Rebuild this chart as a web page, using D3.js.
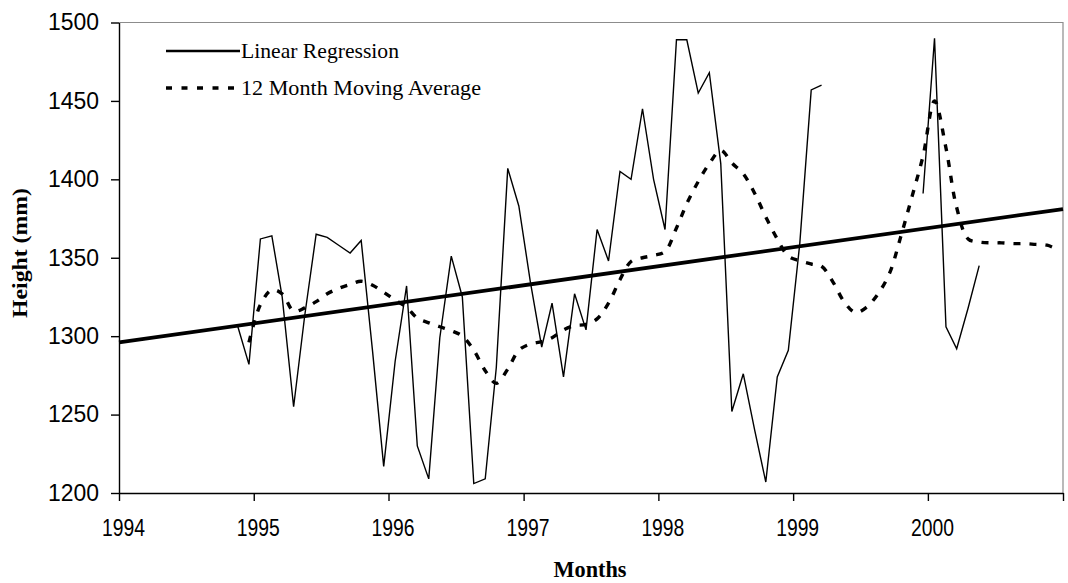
<!DOCTYPE html>
<html>
<head>
<meta charset="utf-8">
<script src="https://cdn.jsdelivr.net/npm/d3@7"></script>
<style>
  body { margin: 0; background: #fff; }
  svg { display: block; background: #fff; }
</style>
</head>
<body>
<svg id="svg" width="1068" height="583"></svg>
<script>
const svgRoot = document.getElementById('svg')
const svg = d3.select(svgRoot)

//------ data ------
// monthly heights (mm), first value is Nov 1994, null = no reading
const rawStart = new Date(1994, 10, 1)
const rawHeights = [
  1306, 1282,                                                             // 1994
  1362, 1364, 1325, 1255, 1313, 1365, 1363, 1358, 1353, 1361, 1290, 1217, // 1995
  1284, 1332, 1230, 1209, 1299, 1351, 1325, 1206, 1209, 1280, 1407, 1383, // 1996
  1335, 1293, 1321, 1274, 1327, 1304, 1368, 1348, 1405, 1400, 1445, 1400, // 1997
  1368, 1489, 1489, 1455, 1468, 1410, 1252, 1276, 1240, 1207, 1274, 1291, // 1998
  1359, 1457, 1460, null, null, null, null, null, null, null, null, 1391, // 1999
  1490, 1306, 1292, 1318, 1345                                            // 2000
]

// 12 month moving average, first value is Dec 1994
const avgStart = new Date(1994, 11, 1)
const avgHeights = [
  1296,                                                                               // 1994
  1320, 1329.5, 1327, 1316, 1318, 1322, 1327, 1330.5, 1333, 1335, 1332.5, 1328,       // 1995
  1323, 1318.5, 1311.5, 1308.5, 1306, 1303.5, 1300, 1291, 1278, 1270, 1279, 1291,     // 1996
  1295, 1296.5, 1299, 1304, 1306.7, 1307.5, 1311, 1321, 1336, 1347.6, 1350, 1351.5,   // 1997
  1354, 1369, 1384.5, 1398.6, 1410, 1418.5, 1410.5, 1403.5, 1391, 1376, 1362, 1351,   // 1998
  1348, 1346, 1344.6, 1334.5, 1322, 1315, 1318.5, 1327, 1340, 1363, 1389, 1415,       // 1999
  1450, 1420, 1382, 1362, 1360, 1359.5, 1359.5, 1359, 1359, 1358.5, 1358, 1355        // 2000
]

// linear regression: value at start of 1994 and change per year
const regressionStart = 1296
const regressionPerYear = 12.15

const yearTicks = [1994, 1995, 1996, 1997, 1998, 1999, 2000, 2001]
const heightTicks = [1200, 1250, 1300, 1350, 1400, 1450, 1500]
const legendLabels = ['Linear Regression', '12 Month Moving Average']

//------ scales ------
const x = d3.scaleTime()
  .domain([new Date(1994, 0, 1), new Date(2001, 0, 1)])
  .range([119, 1063])
const y = d3.scaleLinear()
  .domain([1200, 1500])
  .range([493, 22.5])

// readings sit a little past the start of their month
const monthPoints = (start, values) => values.map((v, i) => ({
  date: d3.timeDay.offset(d3.timeMonth.offset(start, i), 18),
  v: v
}))
const raw = monthPoints(rawStart, rawHeights)
const avg = monthPoints(avgStart, avgHeights)
const regression = [yearTicks[0], yearTicks[yearTicks.length - 1]].map(yr => ({
  date: new Date(yr, 0, 1),
  v: regressionStart + (yr - yearTicks[0]) * regressionPerYear
}))

//------ frame (grey top + right edge) ------
svg.append('path')
  .attr('d', `M${x.range()[0]},${y(1500)}H${x.range()[1]}V${y(1200)}`)
  .attr('fill', 'none')
  .attr('stroke', '#8c8c8c')
  .attr('stroke-width', 1.2)

//------ axes ------
const xAxis = svg.append('g')
  .attr('transform', `translate(0,${y(1200)})`)
  .call(d3.axisBottom(x)
    .tickValues(yearTicks.map(yr => new Date(yr, 0, 1)))
    .tickFormat(d => d.getFullYear() < 2001 ? d.getFullYear() : '')
    .tickSize(8)
    .tickSizeOuter(0)
    .tickPadding(19))
xAxis.selectAll('text')
  .attr('x', 4)
  .style('font-family', '"Liberation Sans", Arial, sans-serif')
  .style('font-size', '23px')
  .attr('textLength', d => d.getFullYear() < 2001 ? 43 : null)
  .attr('lengthAdjust', 'spacingAndGlyphs')

const yAxis = svg.append('g')
  .attr('transform', `translate(${x.range()[0]},0)`)
  .call(d3.axisLeft(y)
    .tickValues(heightTicks)
    .tickFormat(d3.format('d'))
    .tickSize(8)
    .tickSizeOuter(0)
    .tickPadding(12))
yAxis.selectAll('text')
  .style('font-family', '"Liberation Sans", Arial, sans-serif')
  .style('font-size', '23px')
  .attr('textLength', 51)
  .attr('lengthAdjust', 'spacingAndGlyphs')

svg.selectAll('.domain, .tick line')
  .attr('stroke', '#000')
  .attr('stroke-width', 1.4)

//------ lines ------
const straight = d3.line()
  .defined(d => d.v != null)
  .x(d => x(d.date))
  .y(d => y(d.v))

const smooth = d3.line()
  .curve(d3.curveCatmullRom)
  .x(d => x(d.date))
  .y(d => y(d.v))

svg.append('path')
  .datum(raw)
  .attr('d', straight)
  .attr('fill', 'none')
  .attr('stroke', '#000')
  .attr('stroke-width', 1.4)
  .attr('stroke-linejoin', 'miter')

svg.append('path')
  .datum(avg)
  .attr('d', smooth)
  .attr('fill', 'none')
  .attr('stroke', '#000')
  .attr('stroke-width', 3.4)
  .attr('stroke-dasharray', '7,9')

svg.append('path')
  .datum(regression)
  .attr('d', straight)
  .attr('fill', 'none')
  .attr('stroke', '#000')
  .attr('stroke-width', 3.8)

//------ legend ------
const legend = svg.append('g')
const legendRows = [
  { y: 51, dash: null, width: 158 },
  { y: 88, dash: '6,9.5', width: 240 }
]
legendRows.forEach((row, i) => {
  legend.append('line')
    .attr('x1', 166)
    .attr('x2', 240)
    .attr('y1', row.y)
    .attr('y2', row.y)
    .attr('stroke', '#000')
    .attr('stroke-width', row.dash ? 3.6 : 2.6)
    .attr('stroke-dasharray', row.dash)
  legend.append('text')
    .attr('x', 241)
    .attr('y', row.y + 6.5)
    .attr('textLength', row.width)
    .attr('lengthAdjust', 'spacingAndGlyphs')
    .style('font-family', '"Liberation Serif", "Times New Roman", serif')
    .style('font-size', '22px')
    .text(legendLabels[i])
})

//------ axis titles ------
svg.append('text')
  .attr('x', 590)
  .attr('y', 577)
  .attr('text-anchor', 'middle')
  .attr('textLength', 73)
  .attr('lengthAdjust', 'spacingAndGlyphs')
  .style('font-family', '"Liberation Serif", "Times New Roman", serif')
  .style('font-weight', 'bold')
  .style('font-size', '23px')
  .text('Months')

svg.append('text')
  .attr('transform', 'translate(27,253) rotate(-90)')
  .attr('text-anchor', 'middle')
  .attr('textLength', 130)
  .attr('lengthAdjust', 'spacingAndGlyphs')
  .style('font-family', '"Liberation Serif", "Times New Roman", serif')
  .style('font-weight', 'bold')
  .style('font-size', '22px')
  .text('Height (mm)')
</script>
</body>
</html>
